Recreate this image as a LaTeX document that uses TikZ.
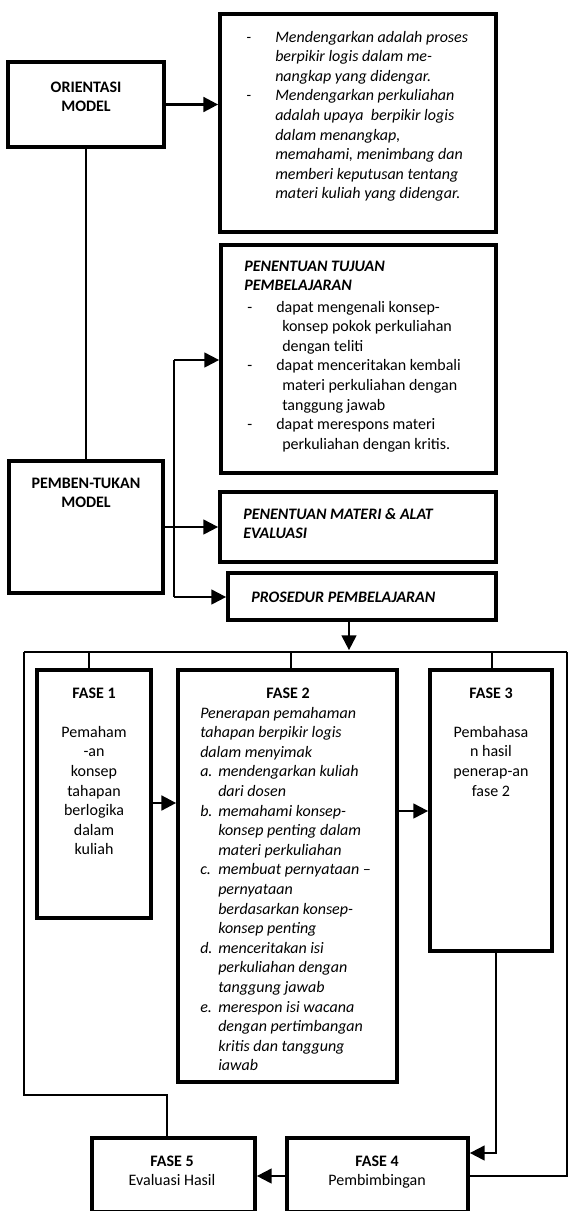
\documentclass[tikz,border=0pt]{standalone}
\usepackage{fontspec}
\setmainfont{Carlito}
\usetikzlibrary{arrows.meta,fit}
\begin{document}
\begin{tikzpicture}[x=0.75pt,y=-0.75pt,
  box/.style={draw, line width=3pt, inner sep=0pt, outer sep=0pt},
  txt/.style={inner sep=0pt, anchor=base west, font=\fontsize{12}{14.7}\selectfont},
  ctxt/.style={inner sep=0pt, anchor=base, font=\fontsize{12}{14.7}\selectfont},
  arr/.style={line width=1.5pt, -{Triangle[length=11pt,width=11pt]}, shorten >=1.4pt},
  conn/.style={line width=1.2pt}]
\useasboundingbox (0,0) rectangle (569,1211);
\fill[white] (0,0) rectangle (569,1211);

% boxes
\node[box, fit={(220,14)(496,232)}] (t1) {};
\node[box, fit={(8,62)(164,147)}] (o) {};
\node[box, fit={(221,245)(496,473)}] (tj) {};
\node[box, fit={(9,461)(163,593)}] (p) {};
\node[box, fit={(220,492)(496,562)}] (m) {};
\node[box, fit={(228,573)(496,620)}] (pr) {};
\node[box, fit={(37,670)(151,918)}] (f1) {};
\node[box, fit={(178,670)(397,1082)}] (f2) {};
\node[box, fit={(430,670)(552,951)}] (f3) {};
\node[box, fit={(287,1138)(468,1212)}] (f4) {};
\node[box, fit={(92,1138)(255,1212)}] (f5) {};

% texts
\node[txt] (t1txt) at (246,42) {\itshape\begin{tabular}[t]{@{}p{21.75pt}@{}l@{}}
-&Mendengarkan adalah proses\\
&berpikir logis dalam me-\\
&nangkap yang didengar.\\
-&Mendengarkan perkuliahan\\
&adalah upaya\ \ berpikir logis\\
&dalam menangkap,\\
&memahami, menimbang dan\\
&memberi keputusan tentang\\
&materi kuliah yang didengar.
\end{tabular}};

\node[ctxt] (otxt) at (86,92) {\bfseries\begin{tabular}[t]{@{}c@{}}ORIENTASI\\MODEL\end{tabular}};

\node[txt] (tjh) at (244,271) {\bfseries\itshape\begin{tabular}[t]{@{}l@{}}PENENTUAN TUJUAN\\PEMBELAJARAN\end{tabular}};
\node[txt] (tjtxt) at (247,312) {\begin{tabular}[t]{@{}p{21.75pt}@{}l@{}}
-&dapat mengenali konsep-\\
&\hspace{4.5pt}konsep pokok perkuliahan\\
&\hspace{4.5pt}dengan teliti\\
-&dapat menceritakan kembali\\
&\hspace{4.5pt}materi perkuliahan dengan\\
&\hspace{4.5pt}tanggung jawab\\
-&dapat merespons materi\\
&\hspace{4.5pt}perkuliahan dengan kritis.
\end{tabular}};

\node[ctxt] (ptxt) at (86,488) {\bfseries\begin{tabular}[t]{@{}c@{}}PEMBEN-TUKAN\\MODEL\end{tabular}};

\node[txt] (mtxt) at (243,519) {\bfseries\itshape\begin{tabular}[t]{@{}l@{}}PENENTUAN MATERI \& ALAT\\EVALUASI\end{tabular}};

\node[txt] (prtxt) at (251,602) {\bfseries\itshape PROSEDUR PEMBELAJARAN};

\node[ctxt] (f1txt) at (94,698) {\begin{tabular}[t]{@{}c@{}}\textbf{FASE 1}\\ \\Pemaham\\-an\\konsep\\tahapan\\berlogika\\dalam\\kuliah\end{tabular}};

\node[ctxt] (f2h) at (288,698) {\bfseries FASE 2};
\node[txt] (f2txt) at (200,718) {\itshape\begin{tabular}[t]{@{}p{13.5pt}@{}l@{}}
\multicolumn{2}{@{}l@{}}{Penerapan pemahaman}\\
\multicolumn{2}{@{}l@{}}{tahapan berpikir logis}\\
\multicolumn{2}{@{}l@{}}{dalam menyimak}\\
a.&mendengarkan kuliah\\
&dari dosen\\
b.&memahami konsep-\\
&konsep penting dalam\\
&materi perkuliahan\\
c.&membuat pernyataan –\\
&pernyataan\\
&berdasarkan konsep-\\
&konsep penting\\
d.&menceritakan isi\\
&perkuliahan dengan\\
&tanggung jawab\\
e.&merespon isi wacana\\
&dengan pertimbangan\\
&kritis dan tanggung\\
&iawab
\end{tabular}};

\node[ctxt] (f3txt) at (491,698) {\begin{tabular}[t]{@{}c@{}}\textbf{FASE 3}\\ \\Pembahasa\\n hasil\\penerap-an\\fase 2\end{tabular}};

\node[ctxt] (f4txt) at (377,1166) {\begin{tabular}[t]{@{}c@{}}\textbf{FASE 4}\\Pembimbingan\end{tabular}};
\node[ctxt] (f5txt) at (172,1166) {\begin{tabular}[t]{@{}c@{}}\textbf{FASE 5}\\Evaluasi Hasil\end{tabular}};

% helper coordinates
\coordinate (bt) at (174,360);
\coordinate (bb) at (174,597);
\coordinate (hub) at (349,652);
\coordinate (L) at (24,652);
\coordinate (R) at (567,652);
\coordinate (k1) at (89,652);
\coordinate (k2) at (291,652);
\coordinate (k3) at (492,652);
\coordinate (y12) at (0,803);
\coordinate (y23) at (0,811);
\coordinate (c34) at (496,1153);
\coordinate (y45) at (0,1176);
\coordinate (c5) at (167,1095);

% connectors
\draw[arr, line width=2pt] (o.east) -- (o.east -| t1.west);
\draw[conn] (o.south) -- (p.north);
\draw[arr] (p.east) -- (p.east -| m.west);
\draw[conn] (bt) -- (bb);
\draw[arr] (bt) -- (bt -| tj.west);
\draw[arr] (bb) -- (bb -| pr.west);
\draw[arr] (pr.south -| hub) -- (hub);
\draw[conn] (L) -- (R);
\draw[conn] (k1) -- (k1 |- f1.north);
\draw[conn] (k2) -- (k2 |- f2.north);
\draw[conn] (k3) -- (k3 |- f3.north);
\draw[arr, line width=2pt] (f1.east |- y12) -- (f2.west |- y12);
\draw[arr] (f2.east |- y23) -- (f3.west |- y23);
\draw[arr] (f3.south -| c34) -- (c34) -- (f4.east |- c34);
\draw[conn] (f4.east |- y45) -- (R |- y45) -- (R);
\draw[arr] (f4.west |- y45) -- (f5.east |- y45);
\draw[conn] (L) -- (L |- c5) -- (c5) -- (c5 |- f5.north);
\end{tikzpicture}
\end{document}
